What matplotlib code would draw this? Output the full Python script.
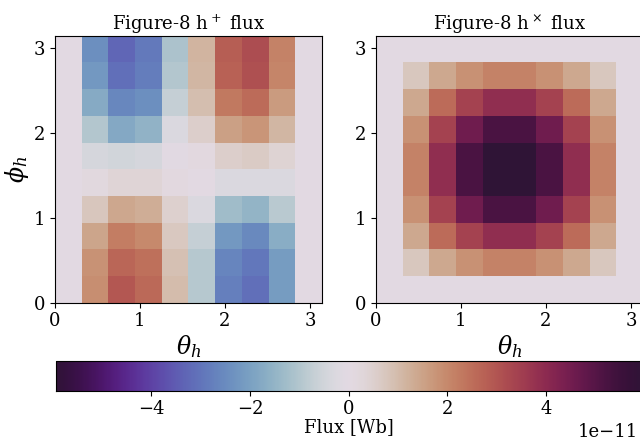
import numpy as np
import matplotlib
matplotlib.use("Agg")
import matplotlib.pyplot as plt

plt.rcParams["font.family"] = "DejaVu Serif"
plt.rcParams["mathtext.fontset"] = "dejavuserif"
plt.rcParams["font.size"] = 13

# grid of cell edges in theta_h and phi_h
theta_edges = np.linspace(0, np.pi, 11)
phi_edges = np.linspace(0, np.pi, 11)

# flux values in units of 1e-11 Wb, rows = phi (bottom to top), cols = theta
flux_plus = np.array([
    [0, 1.9, 2.95, 2.6, 1.0, -0.95, -2.75, -3.1, -2.1, 0],
    [0, 1.8, 2.65, 2.45, 0.9, -0.95, -2.65, -2.95, -2.1, 0],
    [0, 1.45, 2.2, 2.0, 0.7, -0.7, -2.2, -2.55, -1.7, 0],
    [0, 0.75, 1.4, 1.3, 0.5, -0.3, -1.3, -1.5, -0.9, 0],
    [0, 0.15, 0.35, 0.35, 0.1, 0.0, -0.3, -0.3, -0.3, 0],
    [0, -0.4, -0.5, -0.4, -0.05, 0.1, 0.55, 0.65, 0.4, 0],
    [0, -1.0, -1.8, -1.55, -0.3, 0.55, 1.55, 1.75, 1.1, 0],
    [0, -1.75, -2.6, -2.4, -0.7, 0.95, 2.3, 2.55, 1.65, 0],
    [0, -2.2, -3.1, -2.8, -1.0, 1.1, 2.75, 3.1, 2.05, 0],
    [0, -2.4, -3.3, -2.9, -1.1, 1.15, 2.8, 3.15, 2.1, 0],
])

flux_cross = np.array([
    [0, 0, 0, 0, 0, 0, 0, 0, 0, 0],
    [0, 0.74, 1.38, 1.84, 2.1, 2.1, 1.84, 1.38, 0.74, 0],
    [0, 1.38, 2.56, 3.42, 3.9, 3.9, 3.42, 2.56, 1.38, 0],
    [0, 1.84, 3.42, 4.55, 5.2, 5.2, 4.55, 3.42, 1.84, 0],
    [0, 2.1, 3.9, 5.2, 5.94, 5.94, 5.2, 3.9, 2.1, 0],
    [0, 2.1, 3.9, 5.2, 5.94, 5.94, 5.2, 3.9, 2.1, 0],
    [0, 1.84, 3.42, 4.55, 5.2, 5.2, 4.55, 3.42, 1.84, 0],
    [0, 1.38, 2.56, 3.42, 3.9, 3.9, 3.42, 2.56, 1.38, 0],
    [0, 0.74, 1.38, 1.84, 2.1, 2.1, 1.84, 1.38, 0.74, 0],
    [0, 0, 0, 0, 0, 0, 0, 0, 0, 0],
])

scale = 1e-11
vmax = np.abs(flux_cross).max() * scale

fig = plt.figure(figsize=(6.4, 4.41), dpi=100)
ax1 = fig.add_axes([0.0859, 0.3136, 0.4172, 0.6054])
ax2 = fig.add_axes([0.5875, 0.3136, 0.4172, 0.6054])
cax = fig.add_axes([0.087, 0.1141, 0.916, 0.068])

panels = [(ax1, flux_plus, "Figure-8 h$^+$ flux"),
          (ax2, flux_cross, "Figure-8 h$^\\times$ flux")]
for ax, data, title in panels:
    mesh = ax.pcolormesh(theta_edges, phi_edges, data * scale,
                         cmap="twilight_shifted", vmin=-vmax, vmax=vmax)
    ax.set_xlim(0, np.pi)
    ax.set_ylim(0, np.pi)
    ax.set_xticks([0, 1, 2, 3])
    ax.set_yticks([0, 1, 2, 3])
    ax.set_title(title, fontsize=13, pad=4)
    ax.set_xlabel(r"$\theta_h$", fontsize=17, labelpad=2)

ax1.set_ylabel(r"$\phi_h$", fontsize=17, labelpad=2)

cb = fig.colorbar(mesh, cax=cax, orientation="horizontal")
cb.set_label("Flux [Wb]", fontsize=13, labelpad=0)
# keep the offset text inside the figure
cb.ax.xaxis.get_offset_text().set_x(0.993)

fig.savefig("out.png", dpi=100)
